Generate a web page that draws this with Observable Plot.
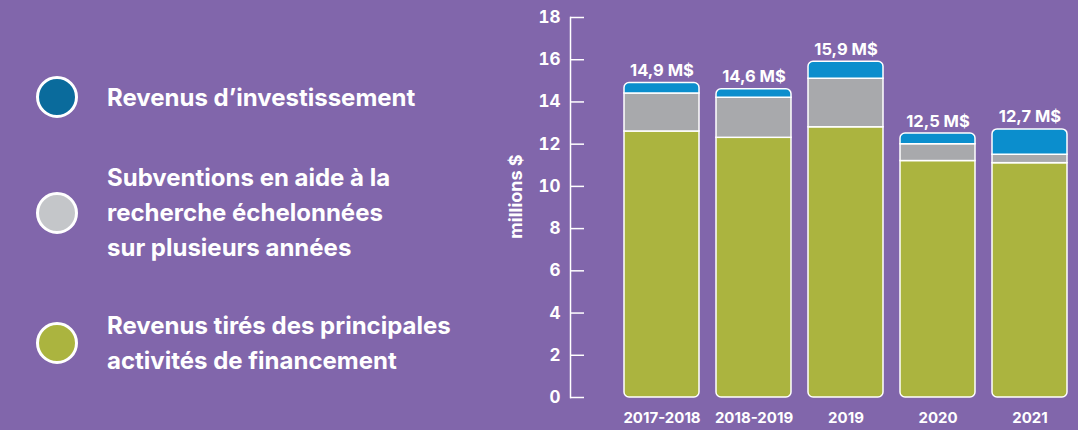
<!DOCTYPE html>
<html>
<head>
<meta charset="utf-8">
<script src="https://cdn.jsdelivr.net/npm/d3@7"></script>
<script src="https://cdn.jsdelivr.net/npm/@observablehq/plot@0.6"></script>
<style>
  html, body { margin: 0; padding: 0; background: #8166ab; }
  #wrap { width: 1078px; height: 430px; display: flex; background: #8166ab; font-family: Inter, "Open Sans", sans-serif; }
  #legend { width: 480px; height: 430px; position: relative; color: #fff; }
  .item { position: absolute; left: 36px; display: flex; align-items: center; }
  .dot { width: 36px; height: 36px; border-radius: 50%; border: 3px solid #fff; flex: none; }
  .lab { margin-left: 29px; font-weight: 700; font-size: 24px; line-height: 35px; letter-spacing: 0px; white-space: nowrap; }
  #chart svg { overflow: visible; }
</style>
</head>
<body>
<div id="wrap">
  <div id="legend"></div>
  <div id="chart"></div>
</div>
<script>
// ---- data ----
const years = ["2017-2018", "2018-2019", "2019", "2020", "2021"];
const financement = [12.6, 12.3, 12.8, 11.2, 11.1];   // Revenus tirés des principales activités de financement
const subventions = [1.8, 1.9, 2.3, 0.8, 0.4];        // Subventions en aide à la recherche
const investissement = [0.5, 0.4, 0.8, 0.5, 1.2];     // Revenus d'investissement
const totalLabels = ["14,9 M$", "14,6 M$", "15,9 M$", "12,5 M$", "12,7 M$"];
const yTicks = [0, 2, 4, 6, 8, 10, 12, 14, 16, 18];
const yLabel = "millions $";
const seriesNames = [
  "Revenus d’investissement",
  "Subventions en aide à la<br>recherche échelonnées<br>sur plusieurs années",
  "Revenus tirés des principales<br>activités de financement"
];

// ---- styles ----
const colGreen = "#abb43f", colGrey = "#a8a9ac", colBlue = "#0b8ecd";
const legendColors = ["#0a6b9c", "#c4c6c9", "#abb43f"];
const legendTops = [76, 160, 308];

// legend
const legend = document.getElementById("legend");
seriesNames.forEach((name, i) => {
  const it = document.createElement("div");
  it.className = "item";
  it.style.top = legendTops[i] + "px";
  it.innerHTML = `<div class="dot" style="background:${legendColors[i]}"></div><div class="lab">${name}</div>`;
  legend.appendChild(it);
});

// stacked rows computed from the arrays
const greenRows = years.map((x, i) => ({x, y1: 0, y2: financement[i]}));
const greyRows = years.map((x, i) => ({x, y1: financement[i], y2: financement[i] + subventions[i]}));
const blueRows = years.map((x, i) => ({x, y1: financement[i] + subventions[i], y2: financement[i] + subventions[i] + investissement[i]}));
const totals = years.map((x, i) => ({x, y: financement[i] + subventions[i] + investissement[i], label: totalLabels[i]}));

const chart = Plot.plot({
  width: 598,
  height: 430,
  marginLeft: 90,
  marginRight: 6,
  marginTop: 17,
  marginBottom: 33,
  style: {background: "transparent", color: "#fff", fontFamily: "Inter, 'Open Sans', sans-serif"},
  x: {domain: years, padding: 0.19, paddingOuter: 0.31, align: 0.9, axis: null},
  y: {domain: [0, 18], axis: null},
  marks: [
    Plot.frame({anchor: "left", stroke: "#fff", strokeWidth: 1.5}),
    Plot.axisY(yTicks, {anchor: "left", tickSize: -14, tickFormat: () => "", stroke: "#fff", strokeWidth: 1.5, strokeOpacity: 1}),
    Plot.axisY(yTicks, {anchor: "left", tickSize: 0, tickPadding: 10, fill: "#fff", fontSize: 17, fontWeight: 700, label: null}),
    Plot.text([yLabel], {x: null, y: null, frameAnchor: "left", textAnchor: "middle", rotate: -90, dx: -54, dy: -11, fill: "#fff", fontSize: 18, fontWeight: 700}),
    Plot.barY(greenRows, {x: "x", y1: "y1", y2: "y2", fill: colGreen, stroke: "#fff", strokeWidth: 1.5, ry2: 5}),
    Plot.barY(greyRows, {x: "x", y1: "y1", y2: "y2", fill: colGrey, stroke: "#fff", strokeWidth: 1.5}),
    Plot.barY(blueRows, {x: "x", y1: "y1", y2: "y2", fill: colBlue, stroke: "#fff", strokeWidth: 1.5, ry1: 5}),
    Plot.text(totals, {x: "x", y: "y", text: "label", dy: -7, lineAnchor: "bottom", fill: "#fff", fontSize: 16.5, fontWeight: 700}),
    Plot.axisX(years, {anchor: "bottom", tickSize: 0, tickPadding: 15, fill: "#fff", fontSize: 15, fontWeight: 700, label: null})
  ]
});
document.getElementById("chart").appendChild(chart);
</script>
</body>
</html>
